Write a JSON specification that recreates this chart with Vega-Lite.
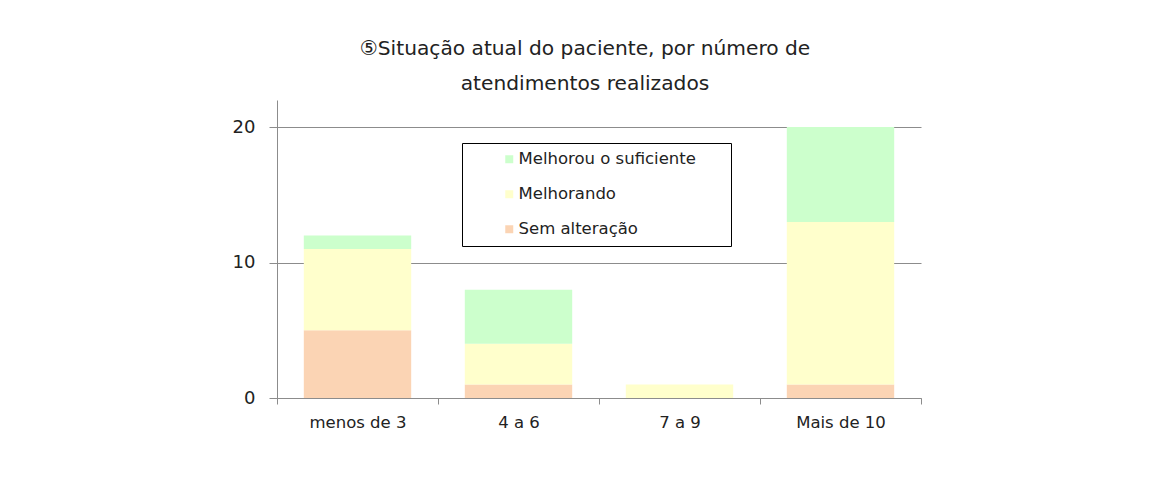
{
  "$schema": "https://vega.github.io/schema/vega-lite/v6.json",
  "autosize": {"type": "none"},
  "padding": {"left": 277, "top": 100, "right": 243, "bottom": 79},
  "width": 644,
  "height": 298,
  "background": "white",
  "title": {
    "text": ["⑤Situação atual do paciente, por número de", "atendimentos realizados"],
    "fontSize": 20.2,
    "fontWeight": "normal",
    "font": "DejaVu Sans",
    "color": "#222222",
    "lineHeight": 35,
    "anchor": "middle",
    "dx": -14,
    "offset": 6
  },
  "data": {
    "values": [
      {"atendimentos": "menos de 3", "situacao": "Sem alteração", "ordem": 1, "pacientes": 5},
      {"atendimentos": "menos de 3", "situacao": "Melhorando", "ordem": 2, "pacientes": 6},
      {"atendimentos": "menos de 3", "situacao": "Melhorou o suficiente", "ordem": 3, "pacientes": 1},
      {"atendimentos": "4 a 6", "situacao": "Sem alteração", "ordem": 1, "pacientes": 1},
      {"atendimentos": "4 a 6", "situacao": "Melhorando", "ordem": 2, "pacientes": 3},
      {"atendimentos": "4 a 6", "situacao": "Melhorou o suficiente", "ordem": 3, "pacientes": 4},
      {"atendimentos": "7 a 9", "situacao": "Sem alteração", "ordem": 1, "pacientes": 0},
      {"atendimentos": "7 a 9", "situacao": "Melhorando", "ordem": 2, "pacientes": 1},
      {"atendimentos": "7 a 9", "situacao": "Melhorou o suficiente", "ordem": 3, "pacientes": 0},
      {"atendimentos": "Mais de 10", "situacao": "Sem alteração", "ordem": 1, "pacientes": 1},
      {"atendimentos": "Mais de 10", "situacao": "Melhorando", "ordem": 2, "pacientes": 12},
      {"atendimentos": "Mais de 10", "situacao": "Melhorou o suficiente", "ordem": 3, "pacientes": 7}
    ]
  },
  "mark": {"type": "bar", "width": {"band": 0.667}},
  "encoding": {
    "x": {
      "field": "atendimentos",
      "type": "nominal",
      "sort": ["menos de 3", "4 a 6", "7 a 9", "Mais de 10"],
      "scale": {"paddingInner": 0, "paddingOuter": 0},
      "axis": {
        "title": null,
        "labelAngle": 0,
        "tickBand": "extent",
        "tickSize": 6,
        "labelPadding": 10,
        "labelFontSize": 16.5,
        "labelFont": "DejaVu Sans",
        "labelColor": "#222222",
        "domainColor": "#8c8c8c",
        "tickColor": "#8c8c8c",
        "grid": false
      }
    },
    "y": {
      "field": "pacientes",
      "type": "quantitative",
      "stack": "zero",
      "scale": {"domain": [0, 22], "nice": false},
      "axis": {
        "title": null,
        "values": [0, 10, 20],
        "grid": true,
        "gridColor": "#8c8c8c",
        "domainColor": "#8c8c8c",
        "tickColor": "#8c8c8c",
        "tickSize": 8,
        "labelPadding": 14,
        "labelFontSize": 18,
        "labelFont": "DejaVu Sans",
        "labelColor": "#222222"
      }
    },
    "color": {
      "field": "situacao",
      "type": "nominal",
      "scale": {
        "domain": ["Melhorou o suficiente", "Melhorando", "Sem alteração"],
        "range": ["#CCFFCC", "#FFFFCC", "#FBD4B4"]
      },
      "legend": {
        "title": null,
        "orient": "none",
        "legendX": 185,
        "legendY": 43,
        "strokeColor": "black",
        "fillColor": "white",
        "padding": 8,
        "symbolOffset": 31,
        "symbolType": "square",
        "symbolSize": 64,
        "symbolStrokeWidth": 0,
        "labelOffset": 1,
        "labelFontSize": 16.5,
        "labelFont": "DejaVu Sans",
        "labelColor": "#222222",
        "labelLimit": 500,
        "rowPadding": 18,
        "labelExpr": "datum.label + '     \u200b'"
      }
    },
    "order": {"field": "ordem", "type": "quantitative"}
  },
  "config": {
    "view": {"stroke": null},
    "axis": {"domainWidth": 1, "tickWidth": 1, "gridWidth": 1}
  }
}
